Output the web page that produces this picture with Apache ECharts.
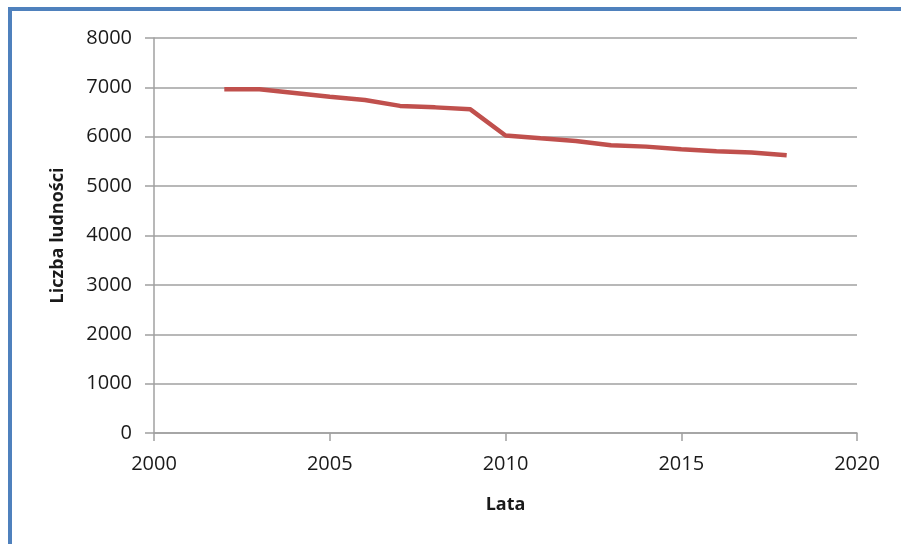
<!DOCTYPE html>
<html>
<head>
<meta charset="utf-8">
<script src="https://cdn.jsdelivr.net/npm/echarts@6/dist/echarts.min.js"></script>
<style>
html,body{margin:0;padding:0;background:#fff;}
#c{width:901px;height:544px;}
</style>
</head>
<body>
<div id="c"></div>
<script>
var years = [2002, 2003, 2004, 2005, 2006, 2007, 2008, 2009, 2010, 2011, 2012, 2013, 2014, 2015, 2016, 2017, 2018];
var population = [6960, 6960, 6885, 6810, 6745, 6625, 6595, 6555, 6025, 5968, 5913, 5826, 5800, 5746, 5706, 5680, 5625];
var xTicks = [2000, 2005, 2010, 2015, 2020];
var yTicks = [0, 1000, 2000, 3000, 4000, 5000, 6000, 7000, 8000];
var xTitle = 'Lata';
var yTitle = 'Liczba ludności';

var chart = echarts.init(document.getElementById('c'), null, {renderer: 'canvas'});
var fontFam = '"Open Sans", "DejaVu Sans", sans-serif';
function plain(v) { return String(v); }
chart.setOption({
  animation: false,
  backgroundColor: '#ffffff',
  grid: {left: 154, right: 44, top: 38, bottom: 111, containLabel: false},
  xAxis: {
    type: 'value',
    min: xTicks[0], max: xTicks[xTicks.length - 1], interval: 5,
    name: xTitle, nameLocation: 'middle', nameGap: 63,
    nameTextStyle: {fontFamily: fontFam, fontWeight: 'bold', fontSize: 18, color: '#1a1a1a'},
    axisLine: {show: true, lineStyle: {color: '#a0a0a0', width: 1.5}},
    axisTick: {show: true, length: 8, lineStyle: {color: '#a0a0a0', width: 1.5}},
    axisLabel: {fontFamily: fontFam, fontSize: 20, color: '#1a1a1a', margin: 21, formatter: plain},
    splitLine: {show: false}
  },
  yAxis: {
    type: 'value',
    min: yTicks[0], max: yTicks[yTicks.length - 1], interval: 1000,
    name: yTitle, nameLocation: 'middle', nameGap: 87, nameRotate: 90,
    nameTextStyle: {fontFamily: fontFam, fontWeight: 'bold', fontSize: 18, color: '#1a1a1a'},
    axisLine: {show: true, lineStyle: {color: '#a0a0a0', width: 1.5}},
    axisTick: {show: true, length: 9, lineStyle: {color: '#a0a0a0', width: 1.5}},
    axisLabel: {fontFamily: fontFam, fontSize: 20, color: '#1a1a1a', margin: 22, formatter: plain},
    splitLine: {show: true, lineStyle: {color: '#a0a0a0', width: 1.5}}
  },
  graphic: [
    {type: 'line', shape: {x1: 8, y1: 9, x2: 901, y2: 9}, style: {stroke: '#4f81bd', lineWidth: 4}},
    {type: 'line', shape: {x1: 10, y1: 7, x2: 10, y2: 544}, style: {stroke: '#4f81bd', lineWidth: 4}}
  ],
  series: [{
    type: 'line',
    data: years.map(function (y, i) { return [y, population[i]]; }),
    symbol: 'none',
    lineStyle: {color: '#c0504d', width: 4.5},
    itemStyle: {color: '#c0504d'}
  }]
});
</script>
</body>
</html>
